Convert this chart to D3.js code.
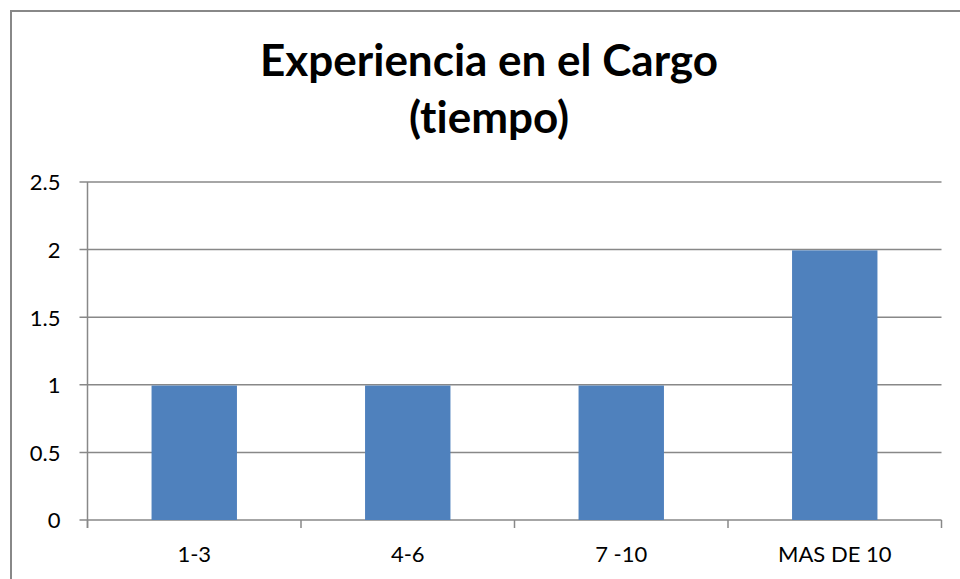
<!DOCTYPE html>
<html>
<head>
<meta charset="utf-8">
<script src="https://cdn.jsdelivr.net/npm/d3@7/dist/d3.min.js"></script>
<style>
  html, body { margin: 0; padding: 0; background: #fff; }
  svg { display: block; }
  text { font-variant-ligatures: none; }
  .tick text { font-family: Lato, "Open Sans", sans-serif; fill: #000; }
</style>
</head>
<body>
<svg id="chart" width="960" height="579"></svg>
<script>
// Chart data
const categories = ["1-3", "4-6", "7 -10", "MAS DE 10"];
const values = [1, 1, 1, 2];
const yTicks = [0, 0.5, 1, 1.5, 2, 2.5];
const titleLines = ["Experiencia en el Cargo", "(tiempo)"];

const svg = d3.select("#chart");
const plot = { left: 87.5, right: 941.5, top: 182, bottom: 520 };
const gridColor = "#888888";

// Outer chart frame (runs past the right and bottom edges)
svg.append("rect")
  .attr("x", 11).attr("y", 11)
  .attr("width", 1000).attr("height", 700)
  .attr("fill", "#fff")
  .attr("stroke", gridColor).attr("stroke-width", 2);

// Title
const title = svg.append("text")
  .attr("text-anchor", "middle")
  .attr("font-family", "Lato, 'Open Sans', sans-serif")
  .attr("font-weight", "bold")
  .attr("font-size", 44)
  .attr("fill", "#000");
title.append("tspan").attr("x", 489).attr("y", 76).text(titleLines[0]);
title.append("tspan").attr("x", 489).attr("y", 133).text(titleLines[1]);

// Scales
const x = d3.scaleBand()
  .domain(categories)
  .range([plot.left, plot.right])
  .paddingInner(0.6)
  .paddingOuter(0.3);
const xEdges = d3.scaleBand().domain(categories).range([plot.left, plot.right]);
const y = d3.scaleLinear().domain([0, 2.5]).range([plot.bottom, plot.top]);

// Horizontal gridlines with short outer ticks
svg.append("g").selectAll("line")
  .data(yTicks)
  .join("line")
  .attr("x1", plot.left - 8).attr("x2", plot.right)
  .attr("y1", d => y(d)).attr("y2", d => y(d))
  .attr("stroke", gridColor).attr("stroke-width", 1.5);

// Bars
svg.append("g").selectAll("rect")
  .data(values)
  .join("rect")
  .attr("x", (d, i) => x(categories[i]))
  .attr("width", x.bandwidth())
  .attr("y", d => y(d) + 0.75)
  .attr("height", d => y(0) - y(d) - 0.75)
  .attr("fill", "#4F81BD");

// Vertical axis line
svg.append("line")
  .attr("x1", plot.left).attr("x2", plot.left)
  .attr("y1", plot.top).attr("y2", plot.bottom + 8)
  .attr("stroke", gridColor).attr("stroke-width", 1.5);

// Category boundary ticks on the baseline
const edges = categories.map(c => xEdges(c)).concat([plot.right]);
svg.append("g").selectAll("line")
  .data(edges)
  .join("line")
  .attr("x1", d => d).attr("x2", d => d)
  .attr("y1", plot.bottom).attr("y2", plot.bottom + 8)
  .attr("stroke", gridColor).attr("stroke-width", 1.5);

// Y axis labels
const yAxis = svg.append("g")
  .attr("transform", `translate(${plot.left - 27},0)`)
  .call(d3.axisLeft(y).tickValues(yTicks).tickFormat(d3.format("")).tickSize(0).tickPadding(0));
yAxis.select(".domain").remove();
yAxis.selectAll("text").attr("font-size", 22).attr("dy", "0.36em");

// X axis labels
const xAxis = svg.append("g")
  .attr("transform", `translate(0,${plot.bottom})`)
  .call(d3.axisBottom(xEdges).tickSize(0).tickPadding(0));
xAxis.select(".domain").remove();
xAxis.selectAll("text").attr("font-size", 22).attr("dy", null).attr("y", 42);
</script>
</body>
</html>
